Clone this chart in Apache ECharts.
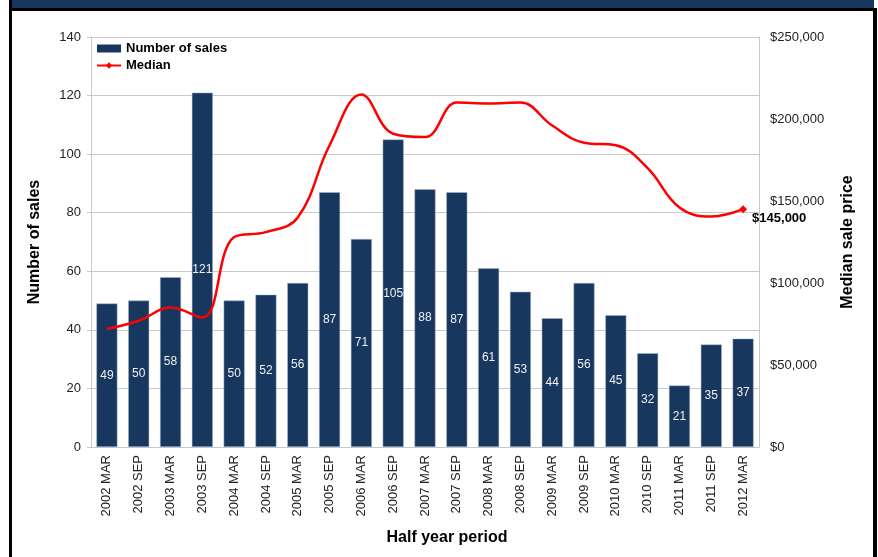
<!DOCTYPE html>
<html>
<head>
<meta charset="utf-8">
<title>Number of sales and median sale price</title>
<script src="https://cdn.jsdelivr.net/npm/echarts@6/dist/echarts.min.js"></script>
<style>
  html, body { margin: 0; padding: 0; background: #fff; }
  #salesChart { width: 878px; height: 557px; }
</style>
</head>
<body>
<div id="salesChart"></div>
<script>
// 半年周期
var periods = ['2002 MAR', '2002 SEP', '2003 MAR', '2003 SEP', '2004 MAR', '2004 SEP', '2005 MAR',
  '2005 SEP', '2006 MAR', '2006 SEP', '2007 MAR', '2007 SEP', '2008 MAR', '2008 SEP', '2009 MAR',
  '2009 SEP', '2010 MAR', '2010 SEP', '2011 MAR', '2011 SEP', '2012 MAR'];
// 销售数量
var salesCount = [49, 50, 58, 121, 50, 52, 56, 87, 71, 105, 88, 87, 61, 53, 44, 56, 45, 32, 21, 35, 37];
// 中位价格
var medianPrice = [72000, 77000, 85000, 79000, 128000, 131000, 140000, 184000, 215000, 191000, 189000,
  210000, 209500, 210000, 196000, 185500, 184000, 170000, 146000, 140500, 145000];
var leftTicks = [0, 140, 20];       // min, max, interval
var rightTicks = [0, 250000, 50000];

var salesChart = '';
var fontName = 'Arial, "Liberation Sans", sans-serif';

function money(v) {
  return '$' + String(v).replace(/\B(?=(\d{3})+(?!\d))/g, ',');
}

var salesOpt = {
  animation: false,
  textStyle: { fontFamily: fontName },
  // 页面框：顶部深蓝条 + 黑色边线
  graphic: [
    { type: 'rect', shape: { x: 12, y: 0, width: 862, height: 8 }, style: { fill: '#17375e' } },
    { type: 'rect', shape: { x: 9, y: 8, width: 868, height: 3 }, style: { fill: '#000' } },
    { type: 'rect', shape: { x: 9, y: 0, width: 3, height: 557 }, style: { fill: '#000' } },
    { type: 'rect', shape: { x: 873, y: 8, width: 4, height: 549 }, style: { fill: '#000' } }
  ],
  grid: { left: 91, right: 119, top: 37, bottom: 110 },
  legend: {
    orient: 'vertical',
    left: 91,
    top: 37,
    itemWidth: 24,
    itemHeight: 8,
    itemGap: 4,
    textStyle: { fontWeight: 'bold', fontSize: 13, color: '#000', fontFamily: fontName },
    data: [
      { name: 'Number of sales', icon: 'rect', itemStyle: { borderWidth: 0 } },
      { name: 'Median' }
    ]
  },
  xAxis: {
    type: 'category',
    data: periods,
    name: 'Half year period',
    nameLocation: 'middle',
    nameGap: 83,
    nameTextStyle: { fontWeight: 'bold', fontSize: 16, color: '#000', padding: [0, 0, 0, 44] },
    axisLine: { lineStyle: { color: '#c8c8c8' } },
    axisTick: { show: false },
    axisLabel: { rotate: 90, fontSize: 13, color: '#222', margin: 8, interval: 0 }
  },
  yAxis: [
    {
      type: 'value',
      min: leftTicks[0],
      max: leftTicks[1],
      interval: leftTicks[2],
      name: 'Number of sales',
      nameLocation: 'middle',
      nameRotate: 90,
      nameGap: 48,
      nameTextStyle: { fontWeight: 'bold', fontSize: 16, color: '#000' },
      axisLine: { show: true, lineStyle: { color: '#c8c8c8' } },
      axisTick: { show: true, length: 4, lineStyle: { color: '#c8c8c8' } },
      axisLabel: { fontSize: 13, color: '#222', margin: 10 },
      splitLine: { lineStyle: { color: '#c8c8c8' } }
    },
    {
      type: 'value',
      min: rightTicks[0],
      max: rightTicks[1],
      interval: rightTicks[2],
      name: 'Median sale price',
      nameLocation: 'middle',
      nameRotate: 90,
      nameGap: 81,
      nameTextStyle: { fontWeight: 'bold', fontSize: 16, color: '#000' },
      axisLine: { show: true, lineStyle: { color: '#c8c8c8' } },
      axisTick: { show: false },
      axisLabel: { fontSize: 13, color: '#222', margin: 11, formatter: money },
      splitLine: { show: false }
    }
  ],
  series: [
    {
      name: 'Number of sales',
      type: 'bar',
      data: salesCount,
      barWidth: '66%',
      itemStyle: { color: '#17375e', borderColor: '#aab8c8', borderWidth: 0.5 },
      label: { show: true, position: 'inside', color: '#f0f0f0', fontSize: 12 }
    },
    {
      name: 'Median',
      type: 'line',
      yAxisIndex: 1,
      data: medianPrice,
      smooth: 0.4,
      symbol: 'diamond',
      showAllSymbol: true,
      symbolSize: function (val, params) {
        return params && params.dataIndex === medianPrice.length - 1 ? 8 : 0;
      },
      lineStyle: { color: '#ff0000', width: 2.5 },
      itemStyle: { color: '#ff0000' },
      label: {
        show: true,
        position: 'right',
        offset: [0, 9],
        fontWeight: 'bold',
        fontSize: 13,
        color: '#000',
        formatter: function (p) {
          return p.dataIndex === medianPrice.length - 1 ? money(p.value) : '';
        }
      },
      z: 5
    }
  ]
};

salesChart = echarts.init(document.getElementById('salesChart'));
salesChart.setOption(salesOpt);
</script>
</body>
</html>
